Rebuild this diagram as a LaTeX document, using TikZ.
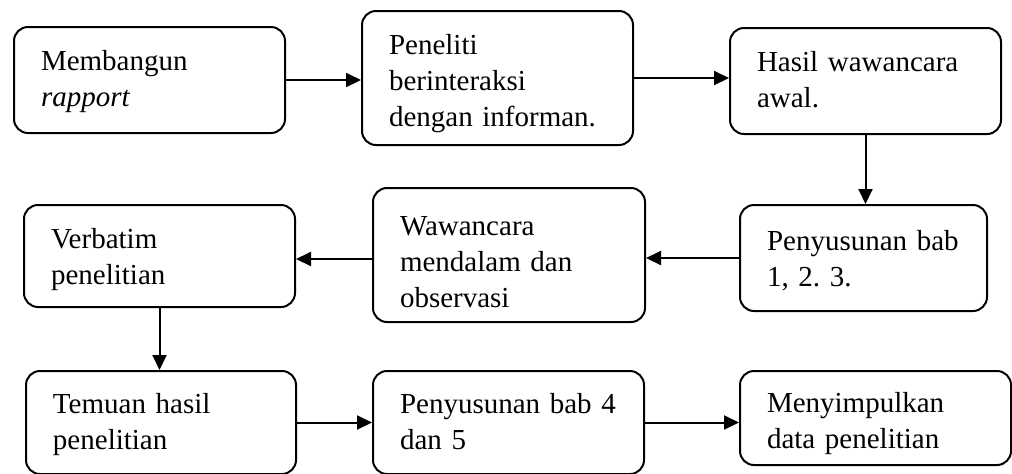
\documentclass[tikz,border=0pt]{standalone}
\usepackage{fontspec}
\setmainfont{Liberation Serif}
\usetikzlibrary{arrows.meta, positioning}
\frenchspacing

\begin{document}
\begin{tikzpicture}[x=0.5pt,y=-0.5pt,>={Triangle[length=7.5pt,width=7pt]},line width=1pt,
        every node/.style={font=\fontsize{14.5pt}{18pt}\selectfont}]
        \tikzstyle{box}=[draw=black,rounded corners=7pt,align=left,text width=108.5pt,
            inner xsep=13.5pt,inner ysep=0pt,text height=21.5pt,text depth=31.5pt]
        \useasboundingbox (0,0) rectangle (1012,473);
        % baris atas
        \node[box](membangun) at (149.5,80){Membangun\\\textit{rapport}};
        \node[box,text depth=45.5pt](peneliti) at (497.5,78){Peneliti\\berinteraksi\\dengan informan.};
        \node[box](hasil) at (865.5,81){Hasil wawancara\\awal.};
        % baris tengah
        \node[box,text depth=29.5pt](verbatim) at (159.5,256){Verbatim\\penelitian};
        \node[box,text width=109pt,text height=23.5pt,text depth=43.5pt](wawancara) at (509,255){Wawancara\\mendalam dan\\observasi};
        \node[box,text width=96.5pt,text height=22.5pt,text depth=30.5pt](bab13) at (863.5,258){Penyusunan bab\\1, 2. 3.};
        % baris bawah
        \node[box,text width=108pt,text height=21pt,text depth=30.5pt](temuan) at (161,422.5){Temuan hasil\\penelitian};
        \node[box,text height=21pt,text depth=30.5pt](bab45) at (508.5,422.5){Penyusunan bab 4\\dan 5};
        \node[box,text height=20.5pt,text depth=26.5pt](simpulan) at (875.5,418){Menyimpulkan\\data penelitian};

        \draw[->] (membangun.east) -- (membangun.east -| peneliti.west);
        \draw[->] (peneliti.east) -- (peneliti.east -| hasil.west);
        \draw[->] (hasil.south) -- (hasil.south |- bab13.north);
        \draw[->] (bab13.west) -- (bab13.west -| wawancara.east);
        \draw[->] ([yshift=-2pt]wawancara.west) -- ([yshift=-2pt]wawancara.west -| verbatim.east);
        \draw[->] (verbatim.south) -- (verbatim.south |- temuan.north);
        \draw[->] (temuan.east) -- (temuan.east -| bab45.west);
        \draw[->] (bab45.east) -- (bab45.east -| simpulan.west);
\end{tikzpicture}
\end{document}
